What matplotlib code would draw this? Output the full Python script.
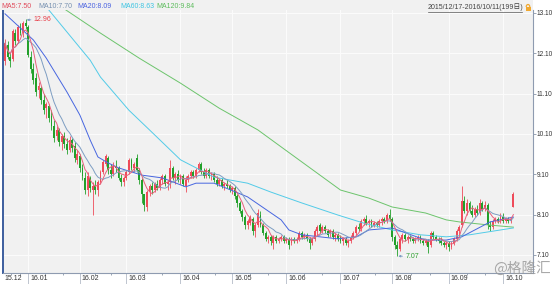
import numpy as np
import pandas as pd
import matplotlib
matplotlib.use("Agg")
import matplotlib.pyplot as plt
from matplotlib.patches import Rectangle, Arc
from matplotlib.lines import Line2D

# daily OHLC, 2015/12/17 - 2016/10/11
opens = [11.90,12.30,12.00,11.95,12.60,12.40,12.75,12.60,12.85,12.75,
         12.00,11.70,11.50,11.20,11.25,10.95,10.75,10.80,10.55,10.30,
         10.05,10.20,9.90,10.05,9.85,9.70,9.95,9.80,9.45,9.55,
         9.25,9.00,8.70,9.00,8.70,8.80,8.70,8.90,9.15,9.35,
         9.50,9.20,9.10,9.30,9.25,9.00,8.90,9.00,9.15,9.45,
         9.25,9.50,9.20,8.95,8.60,8.30,8.65,8.80,8.70,8.85,
         8.75,8.95,9.05,8.85,8.90,9.25,9.00,9.10,8.95,9.05,
         8.80,8.95,9.05,9.15,9.05,9.20,9.35,9.15,9.05,9.20,
         9.05,9.10,8.95,8.85,8.95,8.80,8.85,8.80,8.70,8.75,
         8.55,8.40,8.20,8.05,7.85,7.90,8.00,7.70,7.85,8.10,
         7.85,7.65,7.50,7.55,7.40,7.55,7.45,7.50,7.55,7.45,
         7.50,7.40,7.50,7.45,7.50,7.65,7.55,7.60,7.50,7.40,
         7.50,7.70,7.85,7.70,7.80,7.70,7.65,7.70,7.55,7.60,
         7.50,7.45,7.50,7.40,7.45,7.55,7.65,7.80,7.75,7.95,
         8.00,7.90,7.95,7.85,7.90,7.85,7.95,8.00,7.95,8.10,
         8.00,7.55,7.35,7.25,7.50,7.60,7.50,7.55,7.50,7.45,
         7.50,7.55,7.45,7.40,7.45,7.35,7.65,7.55,7.50,7.45,
         7.40,7.35,7.40,7.30,7.40,7.50,7.70,7.85,8.45,8.20,
         8.40,8.20,8.10,8.25,8.15,8.40,8.25,8.35,7.85,7.80,
         7.95,8.00,7.95,8.05,7.95,8.00,7.95,8.30]
highs = [12.45,12.40,12.10,12.70,12.70,12.80,12.85,12.90,12.96,12.80,
         12.15,11.85,11.60,11.40,11.30,11.10,10.90,10.85,10.70,10.45,
         10.30,10.25,10.10,10.15,10.00,10.05,10.00,9.90,9.70,9.60,
         9.35,9.15,9.15,9.05,8.90,8.95,8.95,9.20,9.45,9.60,
         9.55,9.35,9.40,9.45,9.30,9.10,9.05,9.20,9.50,9.50,
         9.40,9.60,9.25,9.00,8.62,8.70,8.85,8.90,8.90,8.95,
         9.00,9.10,9.10,8.95,9.45,9.30,9.15,9.20,9.10,9.10,
         9.05,9.10,9.20,9.20,9.25,9.40,9.40,9.25,9.25,9.25,
         9.15,9.15,9.05,9.00,9.00,8.90,8.95,8.85,8.80,8.80,
         8.60,8.45,8.25,8.10,8.00,8.10,8.05,7.90,8.25,8.20,
         7.90,7.70,7.60,7.60,7.60,7.60,7.55,7.60,7.60,7.55,
         7.55,7.55,7.55,7.55,7.70,7.70,7.65,7.65,7.55,7.55,
         7.75,7.85,7.90,7.85,7.85,7.75,7.75,7.75,7.65,7.65,
         7.60,7.55,7.55,7.50,7.60,7.70,7.85,7.90,8.00,8.05,
         8.10,8.00,8.00,7.95,7.95,8.00,8.05,8.05,8.15,8.25,
         8.05,7.60,7.45,7.55,7.65,7.65,7.60,7.60,7.55,7.55,
         7.60,7.60,7.50,7.50,7.50,7.70,7.70,7.60,7.55,7.55,
         7.45,7.45,7.45,7.45,7.55,7.75,7.85,8.80,8.55,8.50,
         8.45,8.35,8.30,8.35,8.50,8.45,8.45,8.40,7.95,8.00,
         8.05,8.05,8.15,8.15,8.05,8.05,8.05,8.65]
lows = [11.80,11.95,11.75,11.90,12.30,12.35,12.55,12.50,12.70,12.00,
        11.60,11.35,11.05,11.00,10.85,10.60,10.50,10.40,10.20,9.90,
        9.95,9.80,9.70,9.75,9.60,9.65,9.65,9.40,9.35,9.15,
        8.95,8.60,8.55,8.65,8.10,8.60,8.55,8.85,9.10,9.30,
        9.10,9.00,9.05,9.15,8.95,8.80,8.80,8.95,9.10,9.20,
        9.15,9.15,8.85,8.40,8.20,8.20,8.55,8.60,8.65,8.70,
        8.70,8.85,8.80,8.70,8.75,8.95,8.85,8.90,8.85,8.80,
        8.65,8.90,9.00,9.00,9.00,9.15,9.10,9.00,9.00,9.00,
        8.95,8.90,8.80,8.80,8.75,8.70,8.75,8.65,8.60,8.50,
        8.30,8.15,7.95,7.75,7.75,7.85,7.60,7.55,7.80,7.80,
        7.60,7.45,7.40,7.35,7.25,7.40,7.40,7.45,7.40,7.40,
        7.25,7.35,7.40,7.40,7.45,7.50,7.50,7.45,7.25,7.35,
        7.45,7.60,7.65,7.65,7.65,7.55,7.55,7.50,7.45,7.45,
        7.40,7.35,7.35,7.30,7.40,7.50,7.60,7.70,7.70,7.85,
        7.85,7.80,7.80,7.80,7.80,7.80,7.85,7.90,7.90,7.95,
        7.45,7.25,7.07,7.20,7.40,7.45,7.40,7.45,7.40,7.40,
        7.45,7.40,7.35,7.35,7.15,7.30,7.50,7.45,7.40,7.35,
        7.30,7.25,7.20,7.25,7.35,7.45,7.60,7.80,8.15,8.10,
        8.15,8.05,8.05,8.10,8.10,8.20,8.20,7.75,7.70,7.75,
        7.90,7.90,7.90,7.90,7.90,7.90,7.90,8.28]
closes = [12.35,12.00,11.90,12.65,12.40,12.75,12.60,12.85,12.78,12.05,
          11.70,11.45,11.15,11.30,10.95,10.70,10.85,10.50,10.30,10.00,
          10.20,9.90,10.05,9.85,9.70,9.95,9.75,9.50,9.60,9.25,
          9.05,8.70,9.05,8.75,8.80,8.70,8.90,9.15,9.40,9.55,
          9.20,9.10,9.30,9.25,9.00,8.90,9.00,9.15,9.45,9.25,
          9.35,9.20,8.95,8.60,8.35,8.65,8.80,8.70,8.85,8.75,
          8.95,9.05,8.85,8.90,9.25,9.00,9.10,8.95,9.05,8.85,
          8.95,9.05,9.15,9.05,9.20,9.35,9.15,9.05,9.20,9.05,
          9.10,8.95,8.85,8.95,8.80,8.85,8.80,8.70,8.75,8.55,
          8.40,8.20,8.05,7.85,7.95,8.05,7.70,7.85,8.15,7.85,
          7.65,7.50,7.55,7.45,7.55,7.45,7.50,7.55,7.45,7.50,
          7.35,7.50,7.45,7.50,7.65,7.55,7.60,7.50,7.40,7.50,
          7.70,7.80,7.70,7.80,7.70,7.60,7.70,7.55,7.60,7.50,
          7.45,7.50,7.40,7.45,7.55,7.65,7.80,7.75,7.95,8.00,
          7.90,7.95,7.85,7.90,7.85,7.95,8.00,7.95,8.10,8.00,
          7.55,7.35,7.25,7.50,7.60,7.50,7.55,7.50,7.45,7.50,
          7.55,7.45,7.40,7.45,7.30,7.65,7.55,7.50,7.45,7.40,
          7.35,7.40,7.30,7.40,7.50,7.70,7.80,8.45,8.20,8.40,
          8.20,8.10,8.25,8.15,8.40,8.25,8.35,7.85,7.80,7.95,
          8.00,7.95,8.05,7.95,8.00,7.95,8.00,8.60]

# long moving averages (day index, value)
ma20_days = [0, 11, 16, 20, 24, 29, 33, 36, 40, 44, 53, 61, 70, 74, 81, 94, 107, 110, 115, 129, 136, 141, 150, 163, 171, 177, 188, 197]
ma20_vals = [13.08, 12.43, 11.98, 11.56, 11.14, 10.57, 9.95, 9.53, 9.38, 9.26, 9.08, 9.01, 8.79, 8.88, 8.88, 8.54, 7.97, 7.72, 7.60, 7.50, 7.55, 7.72, 7.77, 7.47, 7.47, 7.55, 7.92, 8.04]
ma60_days = [16, 33, 37, 48, 56, 68, 81, 94, 103, 115, 129, 139, 150, 161, 171, 180, 197]
ma60_vals = [13.25, 11.93, 11.51, 10.69, 10.20, 9.46, 9.03, 8.88, 8.66, 8.39, 8.09, 7.89, 7.72, 7.60, 7.55, 7.60, 7.77]
ma120_days = [23, 37, 52, 68, 83, 98, 107, 130, 141, 150, 163, 171, 176, 188, 197]
ma120_vals = [13.20, 12.60, 11.98, 11.36, 10.74, 10.20, 9.78, 8.71, 8.51, 8.29, 8.14, 7.97, 7.92, 7.84, 7.79]

month_days = [9, 29, 47, 68, 88, 109, 130, 150, 172, 193]
month_labels = ["16.01", "16.02", "16.03", "16.04", "16.05", "16.06", "16.07", "16.08", "16.09", "16.10"]
yticks = [7.10, 8.10, 9.10, 10.10, 11.10, 12.10, 13.10]

legend_texts = ["MA5:7.50", "MA10:7.70", "MA20:8.09", "MA60:8.63", "MA120:9.84"]

plt.rcParams['font.family'] = ['Liberation Sans', 'Noto Sans CJK SC', 'DejaVu Sans']

W, H = 554, 284
fig = plt.figure(figsize=(W / 100, H / 100), dpi=100, facecolor='white')
ax = fig.add_axes([3 / W, 11 / H, 530 / W, 263 / H])
bg = '#f1f1f1'
ax.set_facecolor(bg)
fig.patches.append(Rectangle((0, 1 - 10 / H), 533 / W, 10 / H, transform=fig.transFigure,
                             facecolor=bg, edgecolor='none', zorder=0))

n = len(closes)
days = np.arange(n)
o = np.array(opens); c = np.array(closes)
up = c >= o
red, green = '#ee4b5a', '#22a02a'
cols = np.where(up, red, green)
ax.vlines(days, lows, highs, colors=cols, lw=0.6, zorder=3)
ax.bar(days, np.maximum(np.abs(c - o), 0.015), bottom=np.minimum(o, c), width=0.72,
       color=cols, edgecolor='none', zorder=3)

ma5 = pd.Series(closes).rolling(5, min_periods=1).mean()
ma10 = pd.Series(closes).rolling(10, min_periods=1).mean()
ax.plot(ma120_days, ma120_vals, color='#6cc46c', lw=0.7, zorder=4)
ax.plot(ma60_days, ma60_vals, color='#52cbe8', lw=0.7, zorder=4)
ax.plot(ma20_days, ma20_vals, color='#4766e0', lw=0.7, zorder=4)
ax.plot(days, ma10, color='#7d9dc2', lw=0.7, zorder=4)
ax.plot(days, ma5, color='#e8607a', lw=0.7, zorder=4)

ax.set_xlim(-0.78, 204.6)
ax.set_ylim(6.653, 13.174)

ax.set_yticks(yticks)
ax.set_yticklabels(["%.2f" % v for v in yticks])
ax.yaxis.tick_right()
ax.tick_params(axis='y', direction='out', length=2, width=0.6, color='#8a96a8',
               labelsize=4.7, labelcolor='#333333', pad=0.8)
ax.set_xticks(month_days)
ax.set_xticklabels([])
minor = []
edges = [-0.78] + month_days
for a, b in zip(edges[:-1], edges[1:]):
    minor += [a + (b - a) / 3, a + 2 * (b - a) / 3]
ax.set_xticks(minor, minor=True)
ax.tick_params(axis='x', which='major', direction='out', length=8, width=0.6, color='#b4bcc8')
ax.tick_params(axis='x', which='minor', direction='out', length=1.6, width=0.6, color='#8a96a8')
ax.grid(True, which='major', color='#fbfbfb', lw=0.8, zorder=0)
ax.set_axisbelow(True)

ax.spines['top'].set_visible(False)
ax.spines['left'].set_color('#3d5e9e'); ax.spines['left'].set_linewidth(1.4)
ax.spines['right'].set_color('#8e9bb0'); ax.spines['right'].set_linewidth(0.8)
ax.spines['bottom'].set_color('#8e9bb0'); ax.spines['bottom'].set_linewidth(0.8)

xt = ax.get_xaxis_transform()
ax.text(-0.4, -0.021, "15.12", transform=xt, ha='left', va='center', fontsize=5, color='#333333', clip_on=False)
for d, lab in zip(month_days, month_labels):
    ax.text(d + 0.8, -0.021, lab, transform=xt, ha='left', va='center', fontsize=5, color='#333333', clip_on=False)

# high / low marks
ihi = int(np.argmax(highs)); ilo = int(np.argmin(lows))
ax.annotate("%.2f" % highs[ihi], xy=(ihi + 0.4, highs[ihi] - 0.03), xytext=(7, 0), textcoords='offset pixels',
            fontsize=5, color='#e8404a', va='center', ha='left',
            arrowprops=dict(arrowstyle='-|>', color='#7d9dc2', lw=0.6, mutation_scale=3, shrinkA=0, shrinkB=0))
ax.annotate("%.2f" % lows[ilo], xy=(ilo + 0.4, lows[ilo]), xytext=(7, 0), textcoords='offset pixels',
            fontsize=5, color='#2ea02e', va='center', ha='left',
            arrowprops=dict(arrowstyle='-|>', color='#7d9dc2', lw=0.6, mutation_scale=3, shrinkA=0, shrinkB=0))

# MA legend row
leg_cols = ['#e04a5a', '#7690b0', '#4a62e0', '#3ec4e2', '#5cbc5c']
leg_x = [0, 37, 76, 119, 155]
for t, col, x in zip(legend_texts, leg_cols, leg_x):
    fig.text((x + 1) / W, 1 - 6.5 / H, t, fontsize=5, color=col, ha='left', va='center')

fig.text(428 / W, 1 - 7 / H, "2015/12/17-2016/10/11(199日)", fontsize=5, color='#444444',
         ha='left', va='center', family=['Liberation Sans', 'Noto Sans CJK SC'])
fig.add_artist(Line2D([428 / W, 522 / W], [1 - 11.5 / H, 1 - 11.5 / H], transform=fig.transFigure,
                      color='#555555', lw=0.5))
lock = '#f0a830'
fig.add_artist(Rectangle((525.5 / W, 1 - 11 / H), 5 / W, 4 / H, transform=fig.transFigure,
                         facecolor=lock, edgecolor='none'))
fig.add_artist(Arc((528 / W, 1 - 7 / H), 3.6 / W, 5 / H, theta1=0, theta2=180, transform=fig.transFigure,
                   color=lock, lw=0.9))

fig.text(493 / W, 1 - 268 / H, "@格隆汇", fontsize=10.5, color='#9a9a9a', alpha=0.85,
         ha='left', va='center', family=['Noto Sans CJK SC', 'DejaVu Sans'])

fig.savefig("out.png", dpi=100, facecolor=fig.get_facecolor())
